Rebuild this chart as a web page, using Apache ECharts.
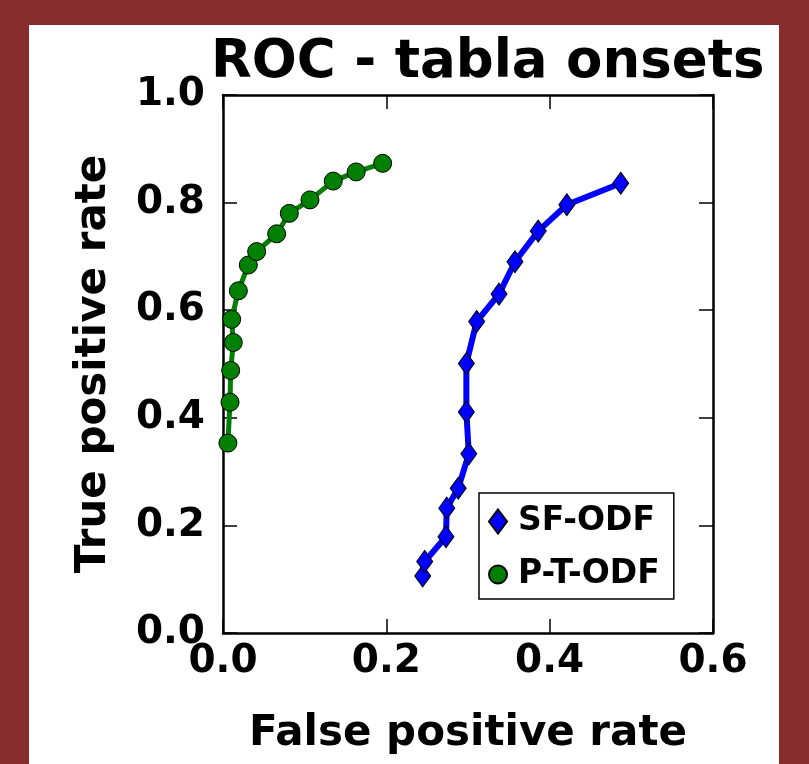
<!DOCTYPE html>
<html>
<head>
<meta charset="utf-8">
<script src="https://cdn.jsdelivr.net/npm/echarts@6/dist/echarts.min.js"></script>
<style>
  html, body { margin: 0; padding: 0; background: #872d2d; }
  #panel { position: absolute; left: 29px; top: 25px; width: 750px; height: 739px; background: #fff; }
  #chart-box { position: absolute; left: 0; top: 0; width: 809px; height: 764px; }
</style>
</head>
<body>
<div id="panel"></div>
<div id="chart-box"></div>
<script>
// SF-ODF curve (false positive rate, true positive rate)
const sfFpr = [0.2445, 0.247, 0.273, 0.274, 0.288, 0.301, 0.298, 0.298, 0.3106, 0.338, 0.3575, 0.386, 0.421, 0.487]
const sfTpr = [0.106, 0.133, 0.179, 0.232, 0.269, 0.333, 0.411, 0.501, 0.579, 0.630, 0.690, 0.747, 0.796, 0.836]

// P-T-ODF curve
const ptFpr = [0.006, 0.0086, 0.0094, 0.0126, 0.0106, 0.0188, 0.031, 0.0412, 0.0657, 0.0812, 0.1065, 0.135, 0.163, 0.1955]
const ptTpr = [0.353, 0.429, 0.488, 0.540, 0.583, 0.636, 0.684, 0.709, 0.742, 0.780, 0.805, 0.840, 0.857, 0.873]

const xTicks = [0.0, 0.2, 0.4, 0.6]
const yTicks = [0.0, 0.2, 0.4, 0.6, 0.8, 1.0]

const font = 'DejaVu Sans'
const pairs = (xs, ys) => xs.map((x, i) => [x, ys[i]])

// matplotlib-like frame: black line, ticks pointing in, on all four sides
const frameAxis = () => ({
    axisLine: {show: true, onZero: false, lineStyle: {color: '#000', width: 2.5}},
    axisTick: {show: true, inside: true, length: 14, lineStyle: {color: '#000', width: 1.5}},
    splitLine: {show: false}
})

let chart = echarts.init(document.getElementById('chart-box'))
chart.setOption({
    backgroundColor: 'transparent',
    animation: false,
    title: {
        text: 'ROC - tabla onsets',
        left: 206,
        top: 32,
        textStyle: {fontFamily: font, fontWeight: 'bold', fontSize: 53, color: '#000'}
    },
    grid: {left: 223, top: 95, width: 490, height: 538},
    legend: {
        orient: 'vertical',
        left: 479,
        top: 493,
        padding: [12, 14, 8, 9],
        itemGap: 20,
        itemWidth: 18,
        itemHeight: 24,
        backgroundColor: '#fff',
        borderColor: '#000',
        borderWidth: 1.5,
        borderRadius: 0,
        textStyle: {fontFamily: font, fontWeight: 'bold', fontSize: 33, lineHeight: 33, color: '#000', padding: [0, 0, 0, 6]},
        data: [
            {name: 'SF-ODF', icon: 'diamond'},
            {name: 'P-T-ODF', icon: 'circle'}
        ]
    },
    xAxis: [{
        type: 'value',
        min: xTicks[0],
        max: xTicks[xTicks.length - 1],
        interval: 0.2,
        name: 'False positive rate',
        nameLocation: 'middle',
        nameGap: 80,
        nameTextStyle: {fontFamily: font, fontWeight: 'bold', fontSize: 42, color: '#000'},
        ...frameAxis(),
        axisLabel: {
            margin: 9,
            fontFamily: font, fontWeight: 'bold', fontSize: 39, color: '#000',
            formatter: v => v.toFixed(1)
        }
    }, {
        type: 'value',
        position: 'top',
        min: xTicks[0],
        max: xTicks[xTicks.length - 1],
        interval: 0.2,
        ...frameAxis(),
        axisLabel: {show: false}
    }],
    yAxis: [{
        type: 'value',
        min: yTicks[0],
        max: yTicks[yTicks.length - 1],
        interval: 0.2,
        name: 'True positive rate',
        nameLocation: 'middle',
        nameRotate: 90,
        nameGap: 108,
        nameTextStyle: {fontFamily: font, fontWeight: 'bold', fontSize: 42, color: '#000'},
        ...frameAxis(),
        axisLabel: {
            margin: 18,
            fontFamily: font, fontWeight: 'bold', fontSize: 39, color: '#000',
            formatter: v => v.toFixed(1)
        }
    }, {
        type: 'value',
        position: 'right',
        min: yTicks[0],
        max: yTicks[yTicks.length - 1],
        interval: 0.2,
        ...frameAxis(),
        axisLabel: {show: false}
    }],
    series: [{
        name: 'SF-ODF',
        type: 'line',
        data: pairs(sfFpr, sfTpr),
        symbol: 'diamond',
        symbolSize: [16, 22],
        lineStyle: {color: '#0000ff', width: 6},
        itemStyle: {color: '#0000ff', borderColor: '#000', borderWidth: 1}
    }, {
        name: 'P-T-ODF',
        type: 'line',
        data: pairs(ptFpr, ptTpr),
        symbol: 'circle',
        symbolSize: 18,
        lineStyle: {color: '#008000', width: 5},
        itemStyle: {color: '#008000', borderColor: '#000', borderWidth: 1}
    }]
})
</script>
</body>
</html>
